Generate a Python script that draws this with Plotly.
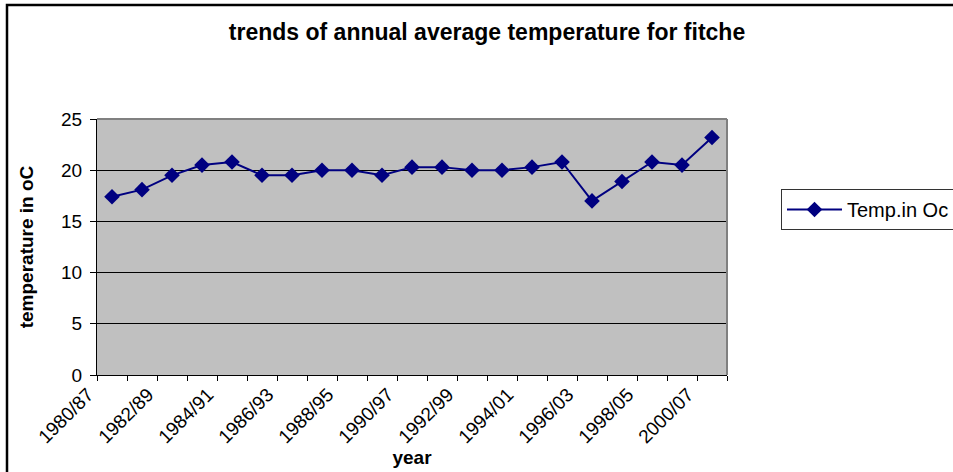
import plotly.graph_objects as go

# Season labels (start year / end year) and annual mean temperature in °C
seasons = [
    "1980/87", "1981/88", "1982/89", "1983/90", "1984/91", "1985/92", "1986/93",
    "1987/94", "1988/95", "1989/96", "1990/97", "1991/98", "1992/99", "1993/00",
    "1994/01", "1995/02", "1996/03", "1997/04", "1998/05", "1999/06", "2000/07",
]
temperature = [
    17.4, 18.1, 19.5, 20.5, 20.8, 19.5, 19.5, 20.0, 20.0, 19.5, 20.3,
    20.3, 20.0, 20.0, 20.3, 20.8, 17.0, 18.9, 20.8, 20.5, 23.2,
]
# only every other season gets a printed label
tick_text = [s if i % 2 == 0 else "" for i, s in enumerate(seasons)]
y_ticks = [0, 5, 10, 15, 20, 25]

FONT = "Arial, Liberation Sans, sans-serif"
NAVY = "#000080"

W, H = 953, 472
L, R, T, B = 97, 226, 119, 97
pw, ph = W - L - R, H - T - B


def px_x(x):
    return (x - L) / pw


def px_y(y):
    return (H - B - y) / ph


fig = go.Figure()
fig.add_trace(go.Scatter(
    x=seasons, y=temperature, mode="lines+markers", name="Temp.in Oc",
    line=dict(color=NAVY, width=2),
    marker=dict(symbol="diamond", size=12, color=NAVY),
))

fig.update_layout(
    width=W, height=H,
    margin=dict(l=L, r=R, t=T, b=B, autoexpand=False),
    paper_bgcolor="white", plot_bgcolor="#c0c0c0",
    font=dict(family=FONT, color="black", size=19),
    title=dict(
        text="<b>trends of annual average temperature for fitche</b>",
        font=dict(size=23, family=FONT, color="black"),
        x=px_x(487), xref="paper", xanchor="center",
        y=1 - 32 / H, yref="container", yanchor="middle",
    ),
    showlegend=True,
    legend=dict(
        x=px_x(781), y=px_y(189), xanchor="left", yanchor="top",
        bgcolor="white", bordercolor="#333333", borderwidth=1,
        font=dict(size=20, family=FONT, color="black"),
        itemwidth=55,
    ),
    xaxis=dict(
        type="category", categoryorder="array", categoryarray=seasons,
        tickmode="array", tickvals=seasons, ticktext=tick_text,
        tickangle=-45, tickson="boundaries", ticks="outside", ticklen=5,
        tickcolor="black", showline=True, linecolor="black", linewidth=1,
        showgrid=False, zeroline=False, ticklabelshift=-24,
        tickfont=dict(size=19, family=FONT, color="black"),
        title=dict(text="<b>year</b>", font=dict(size=19, family=FONT, color="black"), standoff=0),
        range=[-0.5, len(seasons) - 0.5],
    ),
    yaxis=dict(
        range=[0, 25], tickmode="array", tickvals=y_ticks,
        ticks="outside", ticklen=6, tickcolor="black",
        showline=True, linecolor="black", linewidth=1,
        showgrid=True, gridcolor="black", gridwidth=1, zeroline=False,
        ticklabelstandoff=4,
        tickfont=dict(size=19, family=FONT, color="black"),
        title=dict(text="<b>temperature in oC</b>", font=dict(size=19, family=FONT, color="black"), standoff=22),
    ),
    shapes=[
        # grey frame on the top and right of the plotting area
        dict(type="line", xref="paper", yref="paper", x0=0, x1=1, y0=1, y1=1,
             line=dict(color="#808080", width=2), layer="above"),
        dict(type="line", xref="paper", yref="paper", x0=1, x1=1, y0=0, y1=1,
             line=dict(color="#808080", width=2), layer="above"),
        # outer chart border
        dict(type="rect", xref="paper", yref="paper",
             x0=px_x(7), x1=px_x(980), y0=px_y(5), y1=px_y(500),
             line=dict(color="black", width=2.5), fillcolor="rgba(0,0,0,0)", layer="above"),
    ],
)

fig.write_html("out.html")
